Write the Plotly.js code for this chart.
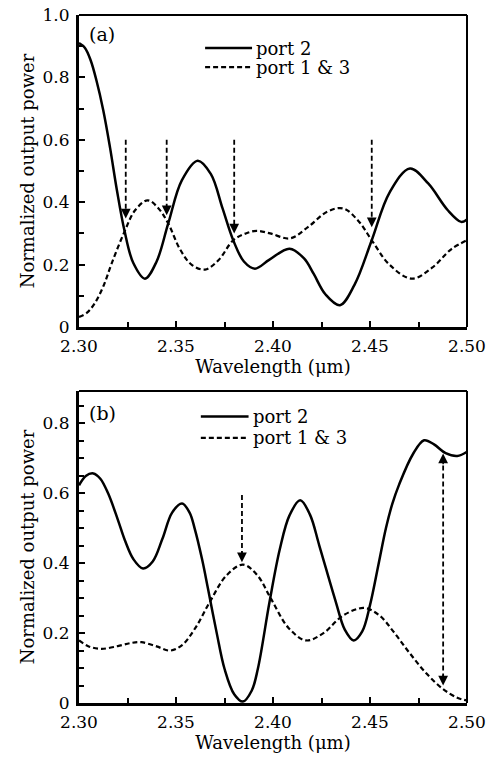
<!DOCTYPE html>
<html>
<head>
<meta charset="utf-8">
<script src="https://cdn.plot.ly/plotly-3.0.1.min.js"></script>
<style>html,body{margin:0;padding:0;background:#fff;}#chart{width:499px;height:758px;}</style>
</head>
<body>
<div id="chart"></div>
<script>
// ---------- Panel (a) ----------
const wlA_port2 = [2.300,2.303,2.306,2.309,2.3125,2.316,2.3195,2.3234,2.328,2.334,2.340,2.346,2.353,2.3612,2.368,2.374,2.3795,2.385,2.3907,2.398,2.4085,2.416,2.421,2.427,2.4345,2.442,2.4509,2.460,2.4706,2.480,2.490,2.497,2.500];
const pwA_port2 = [0.910,0.895,0.855,0.790,0.695,0.575,0.440,0.310,0.205,0.155,0.210,0.332,0.470,0.533,0.490,0.380,0.278,0.210,0.187,0.215,0.251,0.220,0.170,0.105,0.070,0.135,0.278,0.430,0.508,0.460,0.375,0.337,0.345];

const wlA_port13 = [2.300,2.304,2.308,2.3125,2.3168,2.3234,2.329,2.3354,2.341,2.346,2.352,2.358,2.365,2.372,2.3795,2.386,2.3916,2.3985,2.4088,2.418,2.428,2.4362,2.444,2.4509,2.460,2.4715,2.482,2.492,2.500];
const pwA_port13 = [0.032,0.045,0.075,0.130,0.203,0.305,0.375,0.406,0.380,0.332,0.250,0.200,0.184,0.215,0.278,0.300,0.308,0.300,0.284,0.320,0.370,0.380,0.340,0.278,0.200,0.155,0.190,0.250,0.278];

const arrowsA_x   = [2.3241, 2.3452, 2.3800, 2.4509];
const arrowsA_top = [0.600, 0.600, 0.600, 0.600];
const arrowsA_tip = [0.348, 0.358, 0.300, 0.320];

// ---------- Panel (b) ----------
const wlB_port2 = [2.300,2.3035,2.3074,2.311,2.315,2.320,2.3237,2.328,2.333,2.338,2.343,2.348,2.3531,2.357,2.3596,2.3635,2.3665,2.371,2.375,2.380,2.3845,2.389,2.3922,2.3982,2.4035,2.4085,2.414,2.419,2.4239,2.4324,2.437,2.4416,2.446,2.450,2.4545,2.4582,2.4615,2.465,2.4721,2.4779,2.483,2.489,2.495,2.500];
const pwB_port2 = [0.623,0.650,0.657,0.642,0.600,0.525,0.465,0.412,0.385,0.405,0.470,0.545,0.571,0.545,0.500,0.410,0.327,0.200,0.098,0.025,0.004,0.035,0.098,0.289,0.440,0.537,0.580,0.540,0.450,0.289,0.210,0.179,0.205,0.280,0.400,0.500,0.570,0.625,0.712,0.752,0.740,0.715,0.707,0.719];

const wlB_port13 = [2.300,2.305,2.3116,2.320,2.327,2.3322,2.340,2.3468,2.353,2.360,2.3674,2.376,2.3845,2.392,2.399,2.408,2.417,2.426,2.436,2.447,2.455,2.462,2.470,2.479,2.4874,2.495,2.500];
const pwB_port13 = [0.179,0.162,0.155,0.163,0.172,0.174,0.162,0.150,0.165,0.215,0.289,0.365,0.396,0.365,0.298,0.215,0.179,0.200,0.250,0.272,0.250,0.205,0.146,0.085,0.041,0.015,0.007];

const arrowB_x = [2.384];
const arrowB_top = [0.595];
const arrowB_tip = [0.403];
const dblArrowB_x = 2.4877;
const dblArrowB_upper = 0.714;
const dblArrowB_lower = 0.050;

// ---------- Labels ----------
const xTickVals = [2.30, 2.35, 2.40, 2.45, 2.50];
const xTickText = ['2.30', '2.35', '2.40', '2.45', '2.50'];
const yTickValsA = [0, 0.2, 0.4, 0.6, 0.8, 1.0];
const yTickTextA = ['0', '0.2', '0.4', '0.6', '0.8', '1.0'];
const yTickValsB = [0, 0.2, 0.4, 0.6, 0.8];
const yTickTextB = ['0', '0.2', '0.4', '0.6', '0.8'];
const seriesNames = ['port 2', 'port 1 & 3'];
const xTitle = 'Wavelength (μm)';
const yTitle = 'Normalized output power';

const FONT = 'DejaVu Serif, serif';
const solid = {color: 'black', width: 2.5, shape: 'spline', smoothing: 1.0};
const dashed = {color: 'black', width: 2.2, shape: 'spline', smoothing: 1.0, dash: '5px,3px'};

const traces = [
  {x: wlA_port2, y: pwA_port2, xaxis: 'x', yaxis: 'y', mode: 'lines', name: seriesNames[0], line: solid},
  {x: wlA_port13, y: pwA_port13, xaxis: 'x', yaxis: 'y', mode: 'lines', name: seriesNames[1], line: dashed},
  {x: wlB_port2, y: pwB_port2, xaxis: 'x2', yaxis: 'y2', mode: 'lines', name: seriesNames[0], line: solid},
  {x: wlB_port13, y: pwB_port13, xaxis: 'x2', yaxis: 'y2', mode: 'lines', name: seriesNames[1], line: dashed}
];

function xAxis(anchor) {
  return {
    anchor: anchor, domain: [0, 1], range: [2.30, 2.50],
    tickvals: xTickVals, ticktext: xTickText,
    ticks: 'inside', ticklen: 6, tickwidth: 2, tickcolor: 'black',
    minor: {dtick: 0.025, tick0: 2.30, ticks: 'inside', ticklen: 5, tickwidth: 2, tickcolor: 'black', showgrid: false},
    showline: true, linewidth: 3, linecolor: 'black', mirror: false,
    showgrid: false, zeroline: false,
    tickfont: {family: FONT, size: 17, color: 'black'},
    ticklabelstandoff: 2,
    title: {text: xTitle, font: {family: FONT, size: 18, color: 'black'}, standoff: 4}
  };
}
function yAxis(anchor, domain, range, vals, text, minorDt) {
  return {
    anchor: anchor, domain: domain, range: range,
    tickvals: vals, ticktext: text,
    ticks: 'inside', ticklen: 6, tickwidth: 2, tickcolor: 'black',
    minor: {dtick: minorDt, tick0: 0, ticks: 'inside', ticklen: 5, tickwidth: 2, tickcolor: 'black', showgrid: false},
    showline: true, linewidth: 3, linecolor: 'black', mirror: false,
    showgrid: false, zeroline: false,
    tickfont: {family: FONT, size: 17, color: 'black'},
    ticklabelstandoff: 3,
    title: {text: yTitle, font: {family: FONT, size: 18, color: 'black'}, standoff: 4}
  };
}

const shapes = [];
const annotations = [];
// top/right frame lines
[['x', 'y'], ['x2', 'y2']].forEach(([xa, ya]) => {
  shapes.push({type: 'line', xref: xa + ' domain', yref: ya + ' domain', x0: 0, x1: 1, y0: 1, y1: 1, line: {color: 'black', width: 2}});
  shapes.push({type: 'line', xref: xa + ' domain', yref: ya + ' domain', x0: 1, x1: 1, y0: 0, y1: 1, line: {color: 'black', width: 2}});
});

function downArrow(xa, ya, x, top, tip) {
  shapes.push({type: 'line', xref: xa, yref: ya, x0: x, x1: x, y0: top, y1: tip + 0.02, line: {color: 'black', width: 1.8, dash: '5px,3px'}});
  annotations.push({xref: xa, yref: ya, axref: xa, ayref: ya, x: x, y: tip, ax: x, ay: tip + 0.035, text: '', showarrow: true, arrowhead: 2, arrowsize: 1.3, arrowwidth: 1.5, arrowcolor: 'black', standoff: 0});
}
arrowsA_x.forEach((x, i) => downArrow('x', 'y', x, arrowsA_top[i], arrowsA_tip[i]));
arrowB_x.forEach((x, i) => downArrow('x2', 'y2', x, arrowB_top[i], arrowB_tip[i]));
// double-headed arrow in (b)
shapes.push({type: 'line', xref: 'x2', yref: 'y2', x0: dblArrowB_x, x1: dblArrowB_x, y0: dblArrowB_lower + 0.02, y1: dblArrowB_upper - 0.02, line: {color: 'black', width: 1.8, dash: '5px,3px'}});
annotations.push({xref: 'x2', yref: 'y2', axref: 'x2', ayref: 'y2', x: dblArrowB_x, y: dblArrowB_upper, ax: dblArrowB_x, ay: dblArrowB_upper - 0.035, text: '', showarrow: true, arrowhead: 2, arrowsize: 1.3, arrowwidth: 1.5, arrowcolor: 'black', standoff: 0});
annotations.push({xref: 'x2', yref: 'y2', axref: 'x2', ayref: 'y2', x: dblArrowB_x, y: dblArrowB_lower, ax: dblArrowB_x, ay: dblArrowB_lower + 0.035, text: '', showarrow: true, arrowhead: 2, arrowsize: 1.3, arrowwidth: 1.5, arrowcolor: 'black', standoff: 0});

// manual legends
function legend(xa, ya, x0, x1, xt, y1, y2) {
  shapes.push({type: 'line', xref: xa + ' domain', yref: ya + ' domain', x0: x0, x1: x1, y0: y1, y1: y1, line: {color: 'black', width: 2.5}});
  shapes.push({type: 'line', xref: xa + ' domain', yref: ya + ' domain', x0: x0, x1: x1, y0: y2, y1: y2, line: {color: 'black', width: 2.2, dash: '5px,3px'}});
  annotations.push({xref: xa + ' domain', yref: ya + ' domain', x: xt, y: y1, xanchor: 'left', yanchor: 'middle', text: seriesNames[0], showarrow: false, font: {family: FONT, size: 18, color: 'black'}});
  annotations.push({xref: xa + ' domain', yref: ya + ' domain', x: xt, y: y2, xanchor: 'left', yanchor: 'middle', text: seriesNames[1], showarrow: false, font: {family: FONT, size: 18, color: 'black'}});
}
legend('x', 'y', 0.325, 0.446, 0.452, 0.894, 0.833);
legend('x2', 'y2', 0.314, 0.437, 0.443, 0.918, 0.850);

// panel labels
annotations.push({xref: 'x domain', yref: 'y domain', x: 0.02, y: 0.94, xanchor: 'left', yanchor: 'middle', text: '(a)', showarrow: false, font: {family: FONT, size: 19, color: 'black'}});
annotations.push({xref: 'x2 domain', yref: 'y2 domain', x: 0.02, y: 0.93, xanchor: 'left', yanchor: 'middle', text: '(b)', showarrow: false, font: {family: FONT, size: 19, color: 'black'}});

const layout = {
  width: 499, height: 758,
  margin: {l: 79, r: 32, t: 15, b: 55},
  paper_bgcolor: 'white', plot_bgcolor: 'white',
  showlegend: false,
  font: {family: FONT, size: 17, color: 'black'},
  xaxis: xAxis('y'),
  yaxis: yAxis('x', [0.5465, 1], [0, 1.0], yTickValsA, yTickTextA, 0.1),
  xaxis2: xAxis('y2'),
  yaxis2: yAxis('x2', [0, 0.4535], [0, 0.893], yTickValsB, yTickTextB, 0.05),
  shapes: shapes,
  annotations: annotations
};

Plotly.newPlot('chart', traces, layout, {staticPlot: true, displayModeBar: false});
</script>
</body>
</html>
